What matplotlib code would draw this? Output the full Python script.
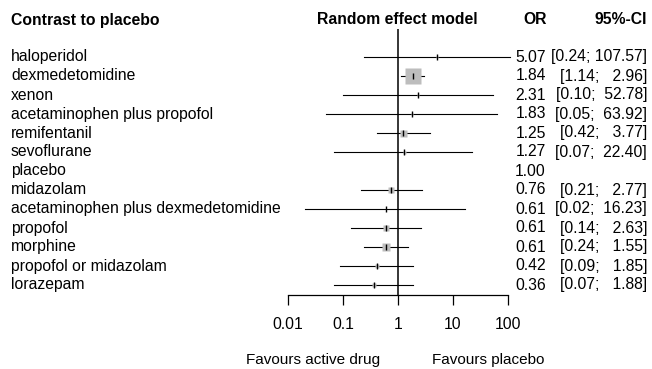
import matplotlib.pyplot as plt
import matplotlib.transforms as mtransforms

# ======================================
# Forest plot - contrast to placebo (network meta-analysis)
# ======================================

treatments = [
    "haloperidol", "dexmedetomidine", "xenon", "acetaminophen plus propofol",
    "remifentanil", "sevoflurane", "placebo", "midazolam",
    "acetaminophen plus dexmedetomidine", "propofol", "morphine",
    "propofol or midazolam", "lorazepam",
]
odds_ratio = [5.07, 1.84, 2.31, 1.83, 1.25, 1.27, 1.00, 0.76, 0.61, 0.61, 0.61, 0.42, 0.36]
ci_low = [0.24, 1.14, 0.10, 0.05, 0.42, 0.07, None, 0.21, 0.02, 0.14, 0.24, 0.09, 0.07]
ci_high = [107.57, 2.96, 52.78, 63.92, 3.77, 22.40, None, 2.77, 16.23, 2.63, 1.55, 1.85, 1.88]
# relative weight (square size, px)
weights = [2, 16, 2, 2, 7, 3, 0, 6, 1, 6, 8, 5, 4]

tick_vals = [0.01, 0.1, 1, 10, 100]
tick_labels = ["0.01", "0.1", "1", "10", "100"]

plt.rcParams['font.family'] = ['Liberation Sans', 'DejaVu Sans']

W, H = 652, 369
fig = plt.figure(figsize=(W / 100, H / 100), dpi=100)

# axes: x from 0.01 (px 288) to 100 (px 508), y from px 29 to px 295
ax_top, ax_bot = 29, 295
ax = fig.add_axes([288 / W, 1 - ax_bot / H, 220 / W, (ax_bot - ax_top) / H])
ax.set_xscale('log')
ax.set_xlim(0.01, 100)
row_top = 57
row_step = 19
ax.set_ylim((ax_bot - row_top) / row_step, (ax_top - row_top) / row_step)

for s in ['top', 'right', 'left']:
    ax.spines[s].set_visible(False)
ax.spines['bottom'].set_linewidth(0.9)
ax.set_yticks([])
ax.set_xticks(tick_vals)
ax.set_xticklabels(tick_labels, fontsize=11.3)
ax.minorticks_off()
ax.tick_params(axis='x', length=7, width=0.9, pad=9)

ax.axvline(1, color='black', lw=1.1, zorder=1)

fs = 11.3
trans_lbl = mtransforms.blended_transform_factory(fig.transFigure, ax.transData)

for i, name in enumerate(treatments):
    y = i
    fig.text(11 / W, y, name, transform=trans_lbl, fontsize=fs, va='center', ha='left')
    fig.text(546 / W, y, "%.2f" % odds_ratio[i], transform=trans_lbl, fontsize=fs,
             va='center', ha='right')
    if ci_low[i] is None:
        continue
    hi = "%.2f" % ci_high[i]
    hi = " " * (6 - len(hi)) + hi
    fig.text(647 / W, y, "[%.2f; %s]" % (ci_low[i], hi), transform=trans_lbl,
             fontsize=fs, va='center', ha='right')
    ax.plot([ci_low[i], ci_high[i]], [y, y], color='black', lw=0.8, zorder=2,
            clip_on=False)
    if weights[i] > 0:
        ax.plot(odds_ratio[i], y, marker='s', ms=weights[i] * 0.72, color='#bdbdbd',
                mec='none', zorder=3, clip_on=False)
    ax.plot(odds_ratio[i], y, marker='|', ms=5, mew=1.0, color='black', zorder=4,
            clip_on=False)

# header
hy = 1 - 20 / H
fig.text(11 / W, hy, "Contrast to placebo", fontsize=fs, fontweight='bold',
         va='center', ha='left')
fig.text(397 / W, hy, "Random effect model", fontsize=fs, fontweight='bold',
         va='center', ha='center')
fig.text(547 / W, hy, "OR", fontsize=fs, fontweight='bold', va='center', ha='right')
fig.text(647 / W, hy, "95%-CI", fontsize=fs, fontweight='bold', va='center', ha='right')

# favours labels
fig.text(313 / W, 1 - 360 / H, "Favours active drug", fontsize=11, va='center', ha='center')
fig.text(488 / W, 1 - 360 / H, "Favours placebo", fontsize=11, va='center', ha='center')

fig.savefig("out.png", dpi=100)
